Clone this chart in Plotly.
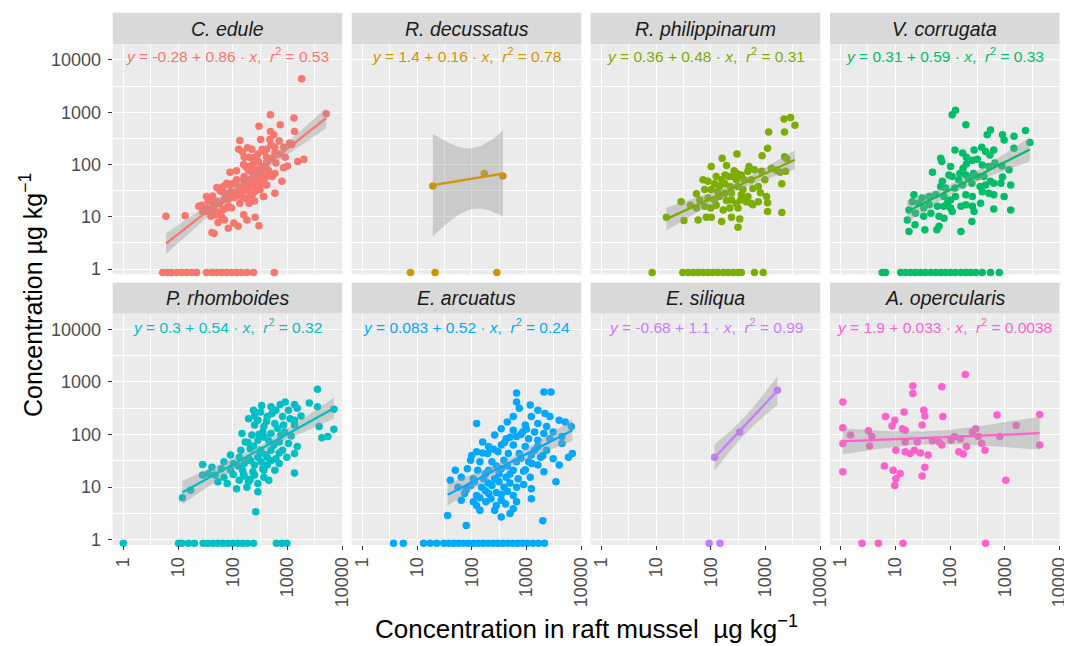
import numpy as np
import plotly.graph_objects as go

# ---------------- data (log10 of concentration, µg kg-1) ----------------
species = ["C. edule", "R. decussatus", "R. philippinarum", "V. corrugata",
           "P. rhomboides", "E. arcuatus", "E. siliqua", "A. opercularis"]
colors = ["#F8766D", "#CD9600", "#7CAE00", "#00BE67",
          "#00BFC4", "#00A9FF", "#C77CFF", "#FF61CC"]
eq_intercept = ["-0.28", "1.4", "0.36", "0.31", "0.3", "0.083", "-0.68", "1.9"]
eq_slope = ["0.86", "0.16", "0.48", "0.59", "0.54", "0.52", "1.1", "0.033"]
eq_r2 = ["0.53", "0.78", "0.31", "0.33", "0.32", "0.24", "0.99", "0.0038"]
tick_values = [1, 10, 100, 1000, 10000]
tick_labels = ["1", "10", "100", "1000", "10000"]
minor_values = [10 ** 0.5, 10 ** 1.5, 10 ** 2.5, 10 ** 3.5]
nd_level = 0.86  # non-detects drawn just below 1

edule_lx = [3.26, 3.71, 0.78, 1.13, 2.69, 2.48, 2.87, 3.12, 2.69, 2.75, 3.13, 2.13, 2.51, 2.68, 2.27, 2.11,
            2.35, 2.54, 2.62, 2.77, 2.93, 2.77, 3.04, 2.21, 2.30, 2.40, 2.44, 2.62, 2.79, 2.96, 3.19, 3.30,
            2.93, 3.00, 2.24, 2.29, 2.35, 2.46, 2.54, 2.65, 2.72, 2.77, 2.90, 2.07, 1.95, 2.21, 2.30, 2.40,
            2.47, 2.55, 2.59, 2.45, 2.34, 2.23, 2.12, 2.01, 1.89, 1.77, 1.71, 1.87, 1.96, 2.05, 2.15, 2.26,
            2.37, 2.50, 2.57, 2.77, 2.13, 2.30, 2.03, 1.93, 1.84, 1.76, 1.63, 1.59, 1.65, 1.52, 1.43, 1.48,
            1.58, 1.72, 1.82, 1.92, 1.98, 1.60, 1.68, 1.80, 1.85, 1.73, 2.02, 2.10, 2.20, 2.26, 2.41, 2.48,
            1.92, 1.62, 1.66, 2.56, 1.89, 3.08, 2.30, 2.38, 2.47, 2.56, 2.20, 2.07, 1.96, 1.83, 2.62, 2.16,
            1.65, 1.52, 2.20, 2.33, 2.41, 2.52, 2.60, 2.66, 2.28, 2.38, 2.50, 2.16, 2.42, 2.32, 2.08, 2.00,
            1.90, 2.24, 2.40, 1.80, 1.70, 1.55, 1.45, 1.38, 2.58, 2.70, 2.85, 2.62, 2.72, 2.84, 2.46, 2.18]
edule_ly = [3.64, 2.97, 1.01, 1.02, 2.95, 2.73, 2.76, 2.89, 2.63, 2.57, 2.63, 2.46, 2.48, 2.48, 2.32, 2.29,
            2.29, 2.29, 2.29, 2.33, 2.33, 2.22, 2.41, 2.14, 2.14, 2.14, 2.09, 2.14, 2.03, 2.14, 2.06, 2.10,
            1.94, 1.97, 1.96, 1.89, 1.85, 1.91, 1.96, 1.89, 1.77, 1.83, 1.68, 1.88, 1.85, 1.77, 1.71, 1.78,
            1.71, 1.64, 1.74, 1.58, 1.58, 1.55, 1.58, 1.64, 1.64, 1.50, 1.56, 1.44, 1.48, 1.45, 1.44, 1.50,
            1.44, 1.52, 1.39, 1.45, 1.26, 1.26, 1.37, 1.34, 1.32, 1.25, 1.40, 1.36, 1.26, 1.17, 1.22, 1.10,
            1.09, 1.09, 1.13, 1.20, 1.17, 1.01, 1.04, 0.99, 0.94, 0.89, 0.88, 0.82, 1.04, 0.94, 0.99, 0.83,
            0.78, 0.70, 0.68, 1.39, 1.17, 2.39, 1.96, 2.03, 2.06, 1.90, 1.71, 1.71, 1.61, 1.58, 1.61, 1.39,
            1.17, 1.39, 2.00, 1.93, 1.88, 1.83, 1.95, 1.80, 1.62, 1.68, 1.66, 1.52, 1.50, 1.40, 1.50, 1.40,
            1.38, 1.35, 1.30, 1.48, 1.30, 1.30, 1.10, 1.20, 2.25, 2.38, 2.45, 2.05, 2.12, 2.20, 2.20, 2.24]
edule_nd_lx = [0.72, 0.80, 0.88, 0.98, 1.07, 1.16, 1.25, 1.34, 1.52, 1.62, 1.71, 1.80, 1.89, 1.98, 2.07,
               2.16, 2.26, 2.38, 2.76]

decussatus_lx = [1.29, 2.23, 2.57]
decussatus_ly = [1.59, 1.83, 1.78]
decussatus_nd_lx = [0.88, 1.33, 2.46]

philippinarum_lx = [3.34, 3.46, 3.54, 3.06, 3.35, 3.04, 2.94, 3.35, 3.39, 2.21, 2.48, 2.01, 2.29, 2.70, 2.43,
                    2.48, 2.41, 2.56, 2.68, 2.80, 2.93, 3.11, 3.20, 3.27, 3.37, 2.99, 3.30, 2.74, 2.61, 2.47,
                    2.33, 2.26, 2.20, 2.10, 1.86, 1.95, 2.07, 2.16, 2.26, 2.36, 2.50, 2.59, 2.77, 2.87, 2.91,
                    3.02, 2.68, 2.56, 2.38, 2.26, 2.13, 2.01, 1.89, 1.74, 1.80, 1.95, 2.07, 2.16, 2.29, 2.38,
                    2.47, 2.55, 2.65, 2.74, 2.87, 3.04, 1.46, 1.63, 1.74, 1.89, 2.00, 2.10, 2.23, 2.35, 2.50,
                    2.77, 3.04, 3.30, 1.51, 1.77, 1.92, 2.01, 2.20, 2.38, 2.53, 2.50, 1.19]
philippinarum_ly = [2.87, 2.90, 2.75, 2.62, 2.62, 2.31, 2.17, 2.15, 2.11, 2.12, 2.20, 1.96, 1.98, 1.96, 1.88,
                    1.83, 1.77, 1.80, 1.87, 1.90, 1.87, 1.93, 1.89, 1.85, 1.87, 1.71, 1.63, 1.71, 1.71, 1.71,
                    1.77, 1.80, 1.71, 1.77, 1.71, 1.68, 1.63, 1.58, 1.63, 1.58, 1.58, 1.52, 1.54, 1.58, 1.46,
                    1.39, 1.39, 1.42, 1.45, 1.45, 1.48, 1.52, 1.52, 1.44, 1.32, 1.36, 1.32, 1.39, 1.31, 1.32,
                    1.26, 1.32, 1.29, 1.26, 1.29, 1.27, 1.29, 1.22, 1.17, 1.20, 1.17, 1.22, 1.13, 1.17, 1.17,
                    1.23, 1.10, 1.08, 0.93, 0.94, 0.99, 0.99, 0.91, 0.99, 0.96, 0.80, 0.99]
philippinarum_nd_lx = [0.93, 1.49, 1.59, 1.68, 1.77, 1.86, 1.95, 2.04, 2.13, 2.23, 2.32, 2.41, 2.50, 2.56,
                       2.80, 2.96]

corrugata_lx = [2.04, 2.10, 2.29, 2.74, 2.68, 2.96, 3.17, 3.38, 3.46, 2.99, 2.09, 2.23, 2.30, 2.44, 2.58,
                2.65, 2.73, 2.80, 3.17, 1.83, 1.85, 1.68, 2.01, 2.24, 2.30, 2.41, 2.50, 2.59, 2.71, 2.82,
                2.95, 3.08, 2.18, 2.29, 2.34, 2.43, 2.50, 2.62, 2.16, 2.04, 1.98, 1.86, 1.83, 1.92, 2.09,
                2.23, 2.40, 2.55, 2.65, 2.74, 2.80, 2.93, 2.96, 3.11, 2.59, 2.71, 2.80, 2.99, 2.41, 2.29,
                2.10, 2.01, 1.95, 1.89, 1.74, 1.62, 1.49, 1.34, 1.43, 1.31, 1.25, 1.37, 1.52, 1.62, 1.77,
                1.89, 2.01, 2.04, 2.20, 2.29, 2.41, 2.56, 2.44, 2.80, 3.11, 1.52, 1.65, 1.80, 1.89, 1.22,
                1.36, 1.54, 1.76, 1.80, 1.25, 2.40, 2.20]
corrugata_ly = [2.95, 3.04, 2.76, 2.66, 2.57, 2.57, 2.54, 2.65, 2.42, 2.47, 2.28, 2.22, 2.14, 2.28, 2.33,
                2.25, 2.18, 2.28, 2.31, 2.12, 2.06, 1.85, 1.96, 1.93, 2.01, 2.08, 2.10, 1.99, 1.96, 2.03,
                1.97, 1.90, 1.83, 1.80, 1.74, 1.83, 1.77, 1.77, 1.71, 1.77, 1.80, 1.68, 1.58, 1.55, 1.55,
                1.61, 1.64, 1.58, 1.61, 1.68, 1.64, 1.64, 1.76, 1.61, 1.48, 1.45, 1.42, 1.39, 1.39, 1.42,
                1.39, 1.32, 1.26, 1.39, 1.42, 1.39, 1.36, 1.42, 1.26, 1.29, 1.13, 1.07, 1.17, 1.23, 1.20,
                1.20, 1.17, 1.10, 1.20, 1.23, 1.20, 1.26, 1.10, 1.15, 1.13, 1.01, 1.07, 1.01, 0.97, 0.94,
                0.85, 0.75, 0.75, 0.82, 0.72, 0.91, 0.72]
corrugata_nd_lx = [0.76, 0.82, 1.10, 1.19, 1.28, 1.37, 1.46, 1.55, 1.65, 1.74, 1.83, 1.92, 2.01, 2.10, 2.20,
                   2.29, 2.38, 2.47, 2.59, 2.74, 2.90]

rhomboides_lx = [3.55, 2.87, 3.13, 3.18, 2.70, 3.55, 3.85, 2.38, 2.51, 2.79, 3.02, 2.29, 2.46, 2.63, 2.91,
                 3.13, 2.40, 2.57, 2.77, 2.93, 3.13, 3.58, 3.85, 3.74, 3.63, 2.17, 2.35, 2.55, 2.70, 2.88,
                 3.07, 2.23, 2.46, 2.66, 2.85, 3.02, 3.18, 3.13, 2.15, 2.32, 2.51, 2.70, 2.91, 1.96, 2.12,
                 2.29, 2.46, 2.63, 2.79, 2.99, 1.84, 2.01, 2.21, 2.40, 2.63, 2.85, 1.45, 1.62, 1.79, 1.96,
                 2.18, 2.37, 2.57, 2.77, 3.13, 1.45, 1.68, 1.84, 2.01, 2.21, 2.40, 2.57, 1.73, 1.90, 2.12,
                 2.29, 2.46, 2.66, 2.07, 2.26, 2.46, 2.42, 1.08, 1.23, 1.56, 2.28, 2.38, 2.48, 2.58, 2.62,
                 2.72, 2.82, 2.95, 3.05, 2.50, 2.60, 2.75, 2.85, 2.33, 2.52, 2.70, 2.20, 2.32, 2.55, 2.40,
                 2.53, 3.25, 3.40, 2.96, 2.10]
rhomboides_ly = [2.86, 2.57, 2.57, 2.50, 2.53, 2.53, 2.48, 2.46, 2.43, 2.46, 2.46, 2.30, 2.27, 2.34, 2.34,
                 2.27, 2.18, 2.15, 2.21, 2.18, 2.18, 2.15, 2.10, 1.96, 1.94, 2.02, 1.99, 2.05, 2.02, 1.99,
                 1.97, 1.86, 1.89, 1.88, 1.86, 1.83, 1.77, 1.64, 1.70, 1.73, 1.70, 1.70, 1.70, 1.61, 1.57,
                 1.54, 1.57, 1.57, 1.54, 1.57, 1.48, 1.45, 1.45, 1.42, 1.42, 1.45, 1.43, 1.38, 1.35, 1.32,
                 1.32, 1.29, 1.32, 1.32, 1.27, 1.23, 1.23, 1.19, 1.24, 1.21, 1.23, 1.19, 1.10, 1.07, 1.13,
                 1.10, 1.07, 1.13, 0.97, 1.00, 0.91, 0.53, 0.80, 0.94, 1.26, 1.85, 1.78, 2.00, 1.95, 2.25,
                 2.40, 2.12, 2.05, 2.30, 1.65, 1.62, 1.80, 1.65, 1.50, 1.48, 1.50, 1.25, 1.15, 1.35, 2.35,
                 2.55, 2.35, 2.60, 2.62, 1.40]
rhomboides_nd_lx = [0.00, 1.01, 1.07, 1.19, 1.30, 1.46, 1.55, 1.64, 1.73, 1.82, 1.91, 2.00, 2.09, 2.18,
                    2.27, 2.38, 2.80, 2.90, 2.99]

arcuatus_lx = [2.82, 3.32, 3.45, 2.82, 3.07, 2.87, 3.21, 3.34, 3.09, 3.43, 3.60, 3.71, 2.76, 2.65, 2.09,
               2.98, 3.21, 3.37, 2.54, 2.76, 2.93, 3.15, 3.32, 3.49, 3.82, 2.42, 2.63, 2.82, 3.04, 3.21,
               3.43, 3.65, 3.65, 2.20, 2.31, 2.54, 2.76, 2.98, 3.21, 3.37, 3.84, 2.09, 2.29, 2.48, 2.67,
               2.87, 3.09, 3.26, 3.49, 3.77, 1.98, 2.15, 2.37, 2.59, 2.82, 3.04, 3.21, 3.60, 1.70, 1.92,
               2.11, 2.31, 2.54, 2.76, 2.98, 3.32, 1.61, 1.81, 2.03, 2.22, 2.42, 2.63, 2.85, 3.07, 3.54,
               1.75, 1.98, 2.18, 2.37, 2.59, 2.82, 3.09, 1.87, 2.09, 2.31, 2.54, 2.76, 1.81, 2.03, 2.26,
               2.54, 2.82, 3.09, 2.15, 2.42, 2.76, 1.56, 1.90, 3.30, 2.54, 2.70, 2.09, 2.00, 2.20, 2.40,
               2.60, 2.70, 2.90, 3.00, 2.45, 2.65, 2.90, 3.15, 2.25, 2.50, 2.70, 2.95, 2.05, 2.30, 2.50,
               2.70, 1.90, 2.25, 2.45, 2.65, 2.95, 2.15, 2.35, 2.45, 2.62, 3.10, 3.30]
arcuatus_ly = [2.79, 2.81, 2.81, 2.62, 2.56, 2.50, 2.46, 2.40, 2.34, 2.34, 2.27, 2.24, 2.34, 2.24, 2.21,
               2.18, 2.21, 2.15, 2.11, 2.08, 2.05, 2.05, 2.02, 2.05, 2.15, 1.99, 1.92, 1.96, 1.92, 1.89,
               1.92, 1.83, 1.96, 1.86, 1.77, 1.80, 1.80, 1.77, 1.77, 1.70, 1.64, 1.67, 1.64, 1.67, 1.64,
               1.64, 1.61, 1.57, 1.54, 1.57, 1.51, 1.48, 1.48, 1.51, 1.48, 1.48, 1.42, 1.42, 1.32, 1.35,
               1.32, 1.32, 1.35, 1.32, 1.33, 1.29, 1.13, 1.19, 1.16, 1.16, 1.16, 1.19, 1.16, 1.19, 1.10,
               1.00, 1.03, 1.00, 1.03, 1.00, 1.00, 0.97, 0.88, 0.84, 0.88, 0.86, 0.84, 0.75, 0.72, 0.72,
               0.75, 0.72, 0.78, 0.56, 0.56, 0.59, 0.46, 0.27, 0.36, 0.43, 0.50, 0.65, 1.60, 1.65, 1.72,
               1.85, 1.95, 2.00, 2.10, 1.40, 1.40, 1.55, 1.70, 1.25, 1.25, 1.25, 1.30, 1.10, 1.08, 1.10,
               1.08, 0.95, 0.93, 0.90, 0.92, 1.05, 0.80, 0.78, 0.65, 0.68, 1.45, 1.60]
arcuatus_nd_lx = [0.57, 0.75, 1.12, 1.24, 1.36, 1.49, 1.58, 1.67, 1.76, 1.85, 1.94, 2.03, 2.12, 2.21, 2.30,
                  2.39, 2.48, 2.57, 2.66, 2.75, 2.84, 2.93, 3.02, 3.12, 3.22, 3.33]

siliqua_lx = [2.07, 2.53, 3.22]
siliqua_ly = [1.57, 2.05, 2.84]
siliqua_nd_lx = [1.97, 2.17]

opercularis_lx = [0.04, 0.04, 0.04, 0.04, 0.51, 0.53, 0.82, 0.94, 0.99, 1.13, 1.16, 1.18, 1.32, 1.32, 1.52,
                  1.54, 1.49, 1.85, 1.87, 2.28, 2.19, 2.30, 2.08, 2.41, 2.47, 2.52, 2.58, 2.64, 2.86, 2.91,
                  3.02, 3.21, 3.64, 3.64, 1.01, 1.18, 1.27, 1.35, 1.46, 1.60, 1.68, 1.80, 1.85, 2.16, 2.24,
                  0.80, 0.96, 1.01, 0.99, 1.09, 1.49, 1.54, 0.57, 0.18, 2.02, 1.18, 1.40]
opercularis_ly = [2.62, 2.13, 1.83, 1.29, 2.07, 1.78, 2.34, 2.16, 2.27, 2.11, 2.43, 2.08, 2.92, 2.78, 2.46,
                  2.35, 2.18, 2.91, 2.34, 3.14, 1.92, 1.77, 1.96, 2.05, 2.11, 1.96, 1.83, 1.70, 2.37, 1.96,
                  1.13, 2.17, 2.38, 1.80, 1.70, 1.67, 1.64, 1.70, 1.65, 1.61, 1.88, 1.86, 1.80, 1.67, 1.63,
                  1.40, 1.32, 1.16, 1.03, 1.26, 1.21, 1.38, 1.96, 1.99, 1.89, 1.86, 1.86]
opercularis_nd_lx = [0.39, 0.69, 1.14, 2.65]

detected_lx = [edule_lx, decussatus_lx, philippinarum_lx, corrugata_lx,
               rhomboides_lx, arcuatus_lx, siliqua_lx, opercularis_lx]
detected_ly = [edule_ly, decussatus_ly, philippinarum_ly, corrugata_ly,
               rhomboides_ly, arcuatus_ly, siliqua_ly, opercularis_ly]
nondetect_lx = [edule_nd_lx, decussatus_nd_lx, philippinarum_nd_lx, corrugata_nd_lx,
                rhomboides_nd_lx, arcuatus_nd_lx, siliqua_nd_lx, opercularis_nd_lx]

# ---------------- layout geometry (pixels in the 1072x646 window) ----------------
PAGE = 8  # default body margin of the html page
W, H = 1072 - PAGE, 646 - PAGE
col_px = [(112.7, 342.3), (351.7, 581.3), (590.7, 820.3), (830.0, 1059.6)]
row_px = [(44.3, 274.3), (313.5, 545.0)]
strip_px = [(12.7, 44.3), (282.7, 313.5)]
eq_py = [55.5, 325.5]


def px(v):
    return (v - PAGE) / W


def py(v):
    return 1 - (v - PAGE) / H


FONT = "Liberation Sans, Arial, Helvetica, sans-serif"


def t975(df):
    table = {1: 12.706, 2: 4.303, 3: 3.182, 4: 2.776, 5: 2.571}
    return table.get(df, 1.96 + 2.5 / df)


fig = go.Figure()
shapes = []
annotations = []

for i, name in enumerate(species):
    r, c = divmod(i, 4)
    xa = "x" if i == 0 else f"x{i + 1}"
    ya = "y" if i == 0 else f"y{i + 1}"
    col = colors[i]
    lx = np.array(detected_lx[i])
    ly = np.array(detected_ly[i])

    # points
    fig.add_trace(go.Scatter(x=10 ** lx, y=10 ** ly, mode="markers", xaxis=xa, yaxis=ya,
                             marker=dict(color=col, size=7.5, line=dict(width=0)),
                             showlegend=False, hoverinfo="skip"))
    nd = np.array(nondetect_lx[i])
    fig.add_trace(go.Scatter(x=10 ** nd, y=np.full(len(nd), nd_level), mode="markers",
                             xaxis=xa, yaxis=ya, cliponaxis=False,
                             marker=dict(color=col, size=7.5, line=dict(width=0)),
                             showlegend=False, hoverinfo="skip"))

    # linear fit in log-log space with 95% confidence band
    b, a = np.polyfit(lx, ly, 1)
    n = len(lx)
    resid = ly - (a + b * lx)
    s = np.sqrt(np.sum(resid ** 2) / (n - 2))
    xbar = lx.mean()
    sxx = np.sum((lx - xbar) ** 2)
    gx = np.linspace(lx.min(), lx.max(), 80)
    gy = a + b * gx
    se = s * np.sqrt(1.0 / n + (gx - xbar) ** 2 / sxx)
    tq = t975(n - 2)
    up, lo = gy + tq * se, gy - tq * se
    fig.add_trace(go.Scatter(x=np.concatenate([10 ** gx, 10 ** gx[::-1]]),
                             y=np.concatenate([10 ** up, 10 ** lo[::-1]]),
                             mode="lines", fill="toself", fillcolor="rgba(153,153,153,0.4)",
                             line=dict(width=0), xaxis=xa, yaxis=ya,
                             showlegend=False, hoverinfo="skip"))
    fig.add_trace(go.Scatter(x=10 ** gx, y=10 ** gy, mode="lines", xaxis=xa, yaxis=ya,
                             line=dict(color=col, width=2.3), showlegend=False, hoverinfo="skip"))

    x0, x1 = col_px[c]
    y0, y1 = row_px[r]
    xkey = "xaxis" if i == 0 else f"xaxis{i + 1}"
    ykey = "yaxis" if i == 0 else f"yaxis{i + 1}"
    fig.update_layout(**{
        xkey: dict(type="log", range=[-0.194, 4.004], domain=[px(x0), px(x1)], anchor=ya,
                   tickmode="array", tickvals=tick_values, ticktext=tick_labels,
                   showticklabels=(r == 1), ticks="outside" if r == 1 else "",
                   ticklen=4, tickwidth=1.1, tickcolor="#333333", tickangle=-90,
                   tickfont=dict(family=FONT, size=18, color="#4D4D4D"),
                   showgrid=True, gridcolor="white", gridwidth=1.2,
                   minor=dict(tickmode="array", tickvals=minor_values, showgrid=True,
                              gridcolor="white", gridwidth=0.6, ticks=""),
                   showline=False, zeroline=False, automargin=False, fixedrange=True),
        ykey: dict(type="log", range=[-0.1, 4.3], domain=[py(y1), py(y0)], anchor=xa,
                   tickmode="array", tickvals=tick_values, ticktext=tick_labels,
                   showticklabels=(c == 0), ticks="outside" if c == 0 else "",
                   ticklen=4, tickwidth=1.1, tickcolor="#333333", ticklabelstandoff=3,
                   tickfont=dict(family=FONT, size=18, color="#4D4D4D"),
                   showgrid=True, gridcolor="white", gridwidth=1.2,
                   minor=dict(tickmode="array", tickvals=minor_values, showgrid=True,
                              gridcolor="white", gridwidth=0.6, ticks=""),
                   showline=False, zeroline=False, automargin=False, fixedrange=True),
    })

    # facet strip
    sy0, sy1 = strip_px[r]
    shapes.append(dict(type="rect", xref="paper", yref="paper", x0=px(x0), x1=px(x1),
                       y0=py(sy1), y1=py(sy0), fillcolor="#D9D9D9", line=dict(width=0),
                       layer="below"))
    annotations.append(dict(xref="paper", yref="paper", x=px((x0 + x1) / 2), y=py((sy0 + sy1) / 2),
                            text=f"<i>{name}</i>", showarrow=False, xanchor="center", yanchor="middle",
                            font=dict(family=FONT, size=19.5, color="#1A1A1A")))
    # equation label
    eq = (f"<i>y</i> = {eq_intercept[i]} + {eq_slope[i]} · <i>x</i>,  "
          f"<i>r</i><sup>2</sup> = {eq_r2[i]}")
    annotations.append(dict(xref="paper", yref="paper", x=px((x0 + x1) / 2), y=py(eq_py[r]),
                            text=eq, showarrow=False, xanchor="center", yanchor="middle",
                            font=dict(family=FONT, size=15.5, color=col)))

annotations.append(dict(xref="paper", yref="paper", x=px(31), y=py(295),
                        text="Concentration µg kg<sup>−1</sup>", textangle=-90, showarrow=False,
                        xanchor="center", yanchor="middle",
                        font=dict(family=FONT, size=25, color="black")))
annotations.append(dict(xref="paper", yref="paper", x=px(586), y=py(627),
                        text="Concentration in raft mussel  µg kg<sup>−1</sup>", showarrow=False,
                        xanchor="center", yanchor="middle",
                        font=dict(family=FONT, size=26, color="black")))

fig.update_layout(width=W, height=H, margin=dict(l=0, r=0, t=0, b=0),
                  paper_bgcolor="white", plot_bgcolor="#EBEBEB",
                  shapes=shapes, annotations=annotations, showlegend=False,
                  font=dict(family=FONT))

fig.write_html("out.html")
